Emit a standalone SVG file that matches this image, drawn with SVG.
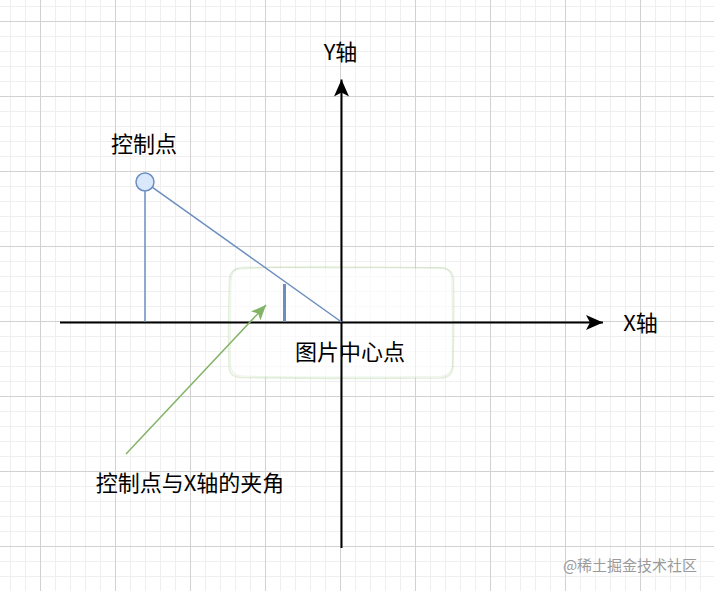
<svg xmlns="http://www.w3.org/2000/svg" width="714" height="591" viewBox="0 0 714 591">
  <defs>
    <pattern id="grid" x="40" y="21" width="75" height="75" patternUnits="userSpaceOnUse">
      <path d="M15.5 0V75M30.5 0V75M45.5 0V75M60.5 0V75M0 15.5H75M0 30.5H75M0 45.5H75M0 60.5H75" stroke="#efefef" stroke-width="1" fill="none"/>
      <path d="M0.5 0V75M0 0.5H75" stroke="#d2d2d2" stroke-width="1" fill="none"/>
    </pattern>
    <marker id="blackArrow" viewBox="0 0 18 16" refX="17" refY="8" markerWidth="18" markerHeight="16" markerUnits="userSpaceOnUse" orient="auto">
      <path d="M17 8L0 0.5L4 8L0 15.5Z" fill="#000"/>
    </marker>
    <marker id="greenArrow" viewBox="0 0 16 14" refX="15" refY="7" markerWidth="16" markerHeight="14" markerUnits="userSpaceOnUse" orient="auto">
      <path d="M15 7L0 0.5L3.5 7L0 13.5Z" fill="#82b366"/>
    </marker>
    <style>
      .lbl { font-family: "Noto Sans CJK SC", "Liberation Sans", sans-serif; font-size: 22px; fill: #000; text-anchor: middle; }
      .axis { stroke: #000; stroke-width: 2; fill: none; }
      .blue { stroke: #6c8ebf; fill: none; }
      .wm { font-family: "Noto Sans CJK SC", "Liberation Sans", sans-serif; font-size: 15px; fill: #9a9a9a; text-anchor: middle; }
    </style>
  </defs>

  <rect width="714" height="591" fill="#ffffff"/>
  <rect width="714" height="591" fill="url(#grid)"/>

  <g id="center-box">
    <path d="M241 268.5 Q290 266 441 268 Q453 268.5 453.5 280 Q454 330 453 366 Q452.5 377.5 441 378 Q330 379 241 377.5 Q229 377 229 366 Q228 320 229.5 280 Q230 268.5 241 268.5Z" fill="#ffffff" fill-opacity="0.6" stroke="#82b366" stroke-opacity="0.22" stroke-width="1.5"/>
    <path d="M242 267 Q330 268.5 440 267.5 Q452 268 452 281 Q452.5 320 452.5 365 Q451 376 440 376.5 Q300 378 242 376 Q231 375.5 230.5 365 Q230 330 231 281 Q231.5 268 242 267Z" fill="none" stroke="#82b366" stroke-opacity="0.15" stroke-width="1.2"/>
    <text class="lbl" x="350" y="359.5">图片中心点</text>
  </g>

  <g id="connectors">
    <line id="x-axis" class="axis" x1="60" y1="322.5" x2="603" y2="322.5" marker-end="url(#blackArrow)"/>
    <line id="y-axis" class="axis" x1="341.5" y1="548" x2="341.5" y2="79.5" marker-end="url(#blackArrow)"/>
    <line class="blue" stroke-width="1.5" x1="145" y1="191" x2="145" y2="322"/>
    <line class="blue" stroke-width="1.5" x1="152.5" y1="187.3" x2="341.5" y2="322"/>
    <line class="blue" stroke-width="3" x1="284.5" y1="284" x2="284.5" y2="322"/>
    <line stroke="#82b366" stroke-width="1.5" x1="126" y1="454" x2="266" y2="305" marker-end="url(#greenArrow)"/>
  </g>

  <g id="control-point">
    <circle cx="145" cy="182" r="9" fill="#dae8fc" stroke="#6c8ebf" stroke-width="1.5"/>
    <text class="lbl" x="144" y="152.4">控制点</text>
  </g>

  <g id="y-label">
    <text class="lbl" x="340.5" y="60">Y轴</text>
  </g>
  <g id="x-label">
    <text class="lbl" x="640.5" y="331">X轴</text>
  </g>
  <g id="angle-label">
    <text class="lbl" x="190" y="490.5">控制点与X轴的夹角</text>
  </g>
  <g id="watermark">
    <text class="wm" x="630" y="570.5">@稀土掘金技术社区</text>
  </g>
</svg>
